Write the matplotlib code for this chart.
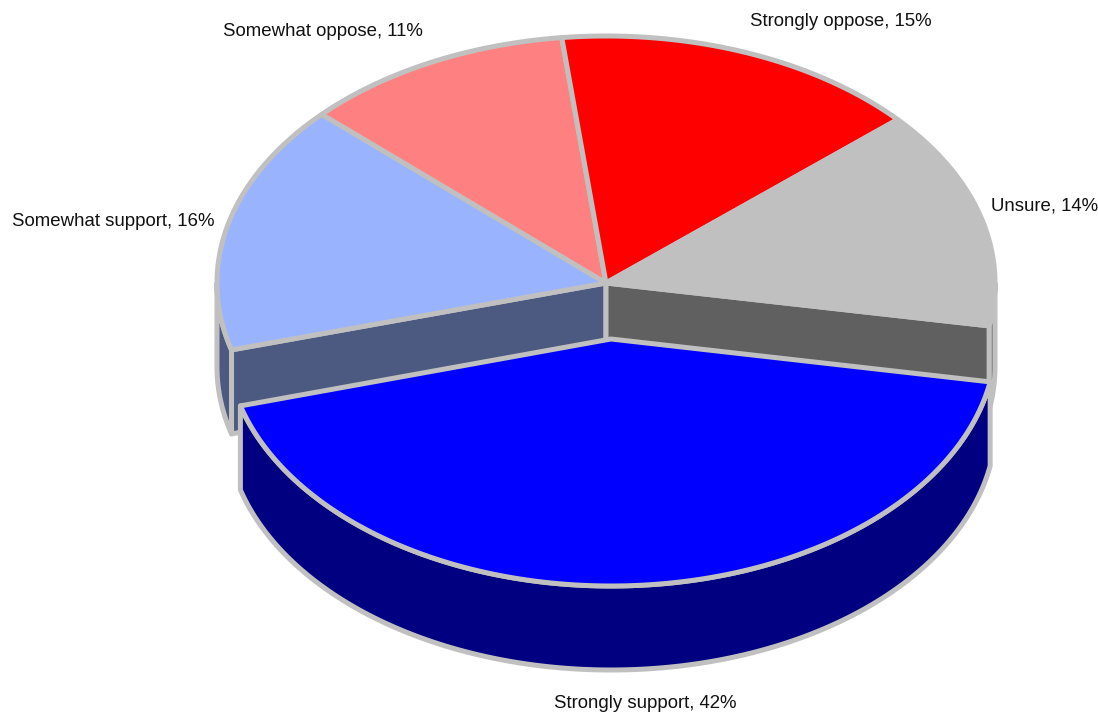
#! /usr/bin/python3

import numpy as np
import matplotlib
matplotlib.use('Agg')
import matplotlib.pyplot as plt
from matplotlib.patches import Polygon

# data, clockwise from the start angle
labels = ['Strongly support', 'Somewhat support', 'Somewhat oppose', 'Strongly oppose', 'Unsure']
values = [42, 16, 11, 15, 14]
topColors  = ['#0000FF', '#99B3FF', '#FF8080', '#FF0000', '#C0C0C0']
sideColors = ['#000080', '#4C5980', '#804040', '#800000', '#606060']
exploded   = [True, False, False, False, False]
labelPos = [(645, 703), (113, 222), (323, 31), (841, 21), (1045, 206)]

# geometry, in pixels
startAngle = -10.0
center     = (606.0, 283.0)
centerOut  = (611.0, 339.0)
rx, ry     = 389.0, 247.0
rxOut      = 385.0
depth      = 84.0
edge       = '#C0C0C0'
lw         = 3.6

fig = plt.figure(figsize=(10.98, 7.15), dpi=100)
ax = fig.add_axes([0, 0, 1, 1])
ax.set_xlim(0, 1098)
ax.set_ylim(715, 0)
ax.axis('off')


def rim(c, a, b, radius):
    t = np.radians(np.linspace(a, b, 200))
    return np.column_stack([c[0] + radius*np.cos(t), c[1] - ry*np.sin(t)])


def poly(pts, color, zo):
    ax.add_patch(Polygon(pts, closed=True, fc=color, ec=edge, lw=lw, zorder=zo, joinstyle='round'))


def draw_wall(a, b, c, radius, color, zo):
    # outer wall : only what lies under the front half of the ellipse
    for hi, lo in ((min(a, 0.0), max(b, -180.0)), (min(a, -360.0), max(b, -540.0))):
        if hi > lo:
            p = rim(c, hi, lo, radius)
            poly(np.vstack([p, (p + [0, depth])[::-1]]), color, zo)


def draw_face(ang, c, radius, color, zo):
    q = rim(c, ang, ang, radius)[0]
    poly(np.array([c, q, q + [0, depth], [c[0], c[1] + depth]]), color, zo)


spans = np.array(values)/sum(values)*360.0
n = len(values)
a = startAngle
for i in range(n):
    b = a - spans[i]
    if exploded[i]:
        draw_wall(a, b, centerOut, rxOut, sideColors[i], 5)
        poly(np.vstack([[centerOut], rim(centerOut, a, b, rxOut)]), topColors[i], 6)
    else:
        draw_wall(a, b, center, rx, sideColors[i], 1)
        # the cut faces only show next to the pulled out slice
        if exploded[(i - 1) % n]:
            draw_face(a, center, rx, sideColors[i], 2)
        if exploded[(i + 1) % n]:
            draw_face(b, center, rx, sideColors[i], 2)
        poly(np.vstack([[center], rim(center, a, b, rx)]), topColors[i], 3)
    a = b

for i in range(n):
    ax.text(labelPos[i][0], labelPos[i][1], '%s, %d%%' % (labels[i], values[i]),
            ha='center', va='center', fontsize=13.4, family='Liberation Sans', color='#111111', zorder=10)

fig.savefig('out.png', dpi=100)
